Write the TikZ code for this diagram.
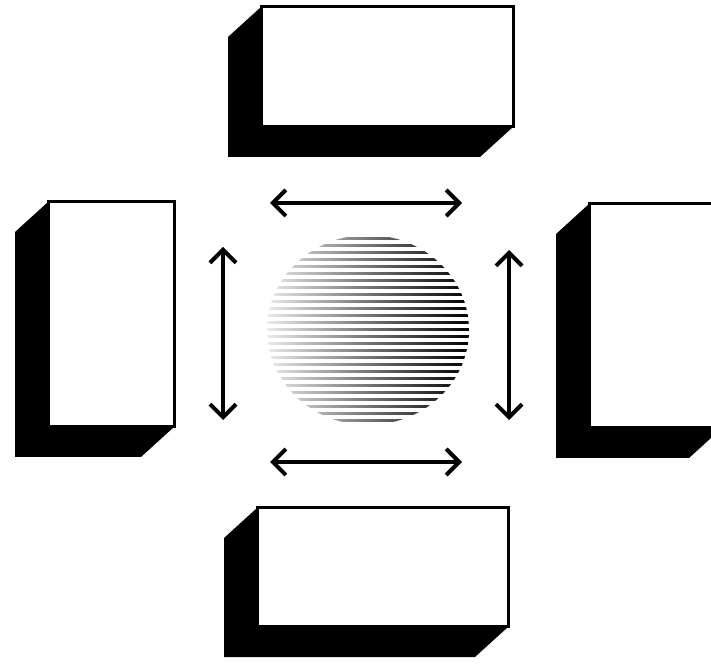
\documentclass[tikz,border=0pt]{standalone}
\usepackage{tikz}
\usetikzlibrary{shapes.geometric, arrows.meta, positioning, calc, backgrounds}

\begin{document}
\begin{tikzpicture}[
  x=1pt, y=1pt,
  slab/.style={rectangle, draw=black, fill=white, line width=3pt, inner sep=0pt, outer sep=0pt},
  core/.style={ellipse, minimum width=202pt, minimum height=190pt, inner sep=0pt,
               path picture={
                 \foreach \k in {-14,...,14}
                   \shade[left color=black!8, right color=black]
                     ([yshift=\k*7pt-1pt]path picture bounding box.west) rectangle
                     ([yshift=\k*7pt+1pt]path picture bounding box.east);
               }},
  arr/.style={{Straight Barb[length=13pt, width=26pt]}-{Straight Barb[length=13pt, width=26pt]},
              line width=4pt}
]
  \useasboundingbox (0,0) rectangle (711,663);

  % blocks
  \node[slab, minimum width=252pt, minimum height=120pt] (top) at (387,596) {};
  \node[slab, minimum width=126pt, minimum height=225pt] (left) at (111,348.5) {};
  \node[slab, minimum width=133pt, minimum height=224pt] (right) at (655.5,347) {};
  \node[slab, minimum width=251pt, minimum height=119pt] (bottom) at (382.5,95.5) {};

  % extruded shadows
  \begin{scope}[on background layer]
    \foreach \b in {top, left, right, bottom}
      \fill[black] (\b.north west) -- ($(\b.north west)+(-33,-30)$)
        -- ($(\b.south west)+(-33,-30)$) -- ($(\b.south east)+(-33,-30)$)
        -- (\b.south east) -- cycle;
  \end{scope}

  % centre
  \node[core] (hub) at (368,333) {};

  % arrow ends
  \coordinate (tl) at (270,460);
  \coordinate (tr) at (462,460);
  \coordinate (bl) at (270,201);
  \coordinate (br) at (462,201);
  \coordinate (lu) at (223,416);
  \coordinate (ld) at (223,243);
  \coordinate (ru) at (509,413);
  \coordinate (rd) at (509,243);

  \draw[arr] (tl) -- (tr);
  \draw[arr] (bl) -- (br);
  \draw[arr] (lu) -- (ld);
  \draw[arr] (ru) -- (rd);
\end{tikzpicture}
\end{document}
